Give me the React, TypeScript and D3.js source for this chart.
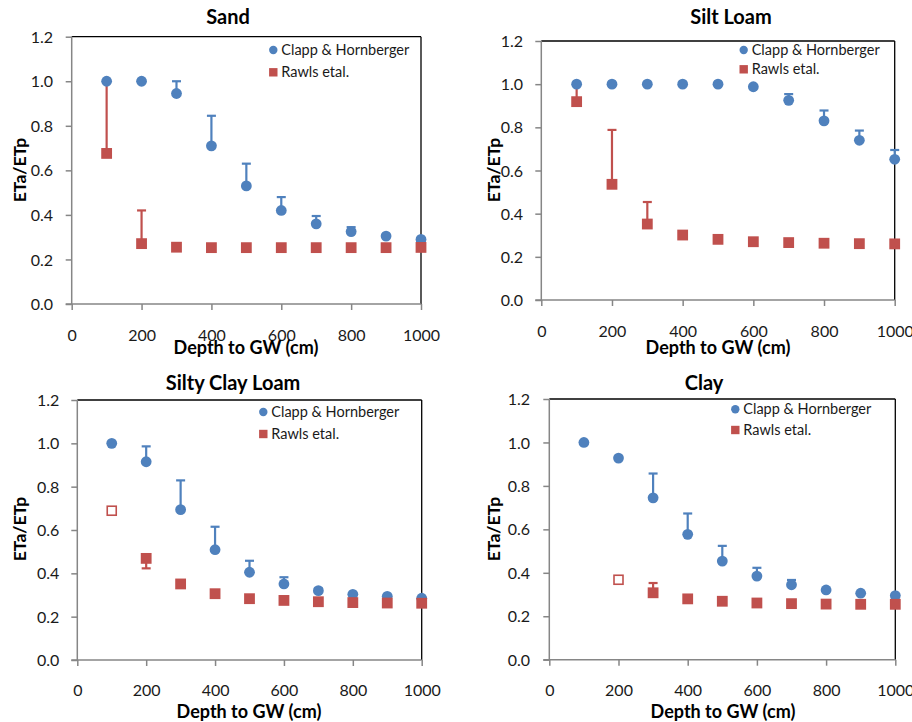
import React, { useEffect, useRef } from "react";
import * as d3 from "d3";

const depths = [100, 200, 300, 400, 500, 600, 700, 800, 900, 1000];
const xTicks = [0, 200, 400, 600, 800, 1000];
const yTicks = [0, 0.2, 0.4, 0.6, 0.8, 1.0, 1.2];
const seriesNames = ["Clapp & Hornberger", "Rawls etal."];

// Sand
const sandClapp = [1.0, 1.0, 0.945, 0.71, 0.53, 0.42, 0.36, 0.325, 0.305, 0.29];
const sandClappHi = [null, null, 1.0, 0.845, 0.63, 0.48, 0.395, 0.345, 0.31, null];
const sandRawls = [0.676, 0.271, 0.255, 0.253, 0.253, 0.253, 0.253, 0.253, 0.253, 0.254];
const sandRawlsHi = [1.0, 0.42, null, null, null, null, null, null, null, null];

// Silt Loam
const siltClapp = [1.0, 1.0, 1.0, 1.0, 1.0, 0.988, 0.925, 0.83, 0.74, 0.652];
const siltClappHi = [null, null, null, null, null, null, 0.954, 0.878, 0.785, 0.695];
const siltRawls = [0.919, 0.536, 0.352, 0.301, 0.281, 0.27, 0.266, 0.263, 0.261, 0.26];
const siltRawlsHi = [1.0, 0.788, 0.454, 0.31, null, null, null, null, null, null];

// Silty Clay Loam
const sclClapp = [1.0, 0.915, 0.694, 0.509, 0.405, 0.351, 0.32, 0.303, 0.294, 0.285];
const sclClappHi = [null, 0.986, 0.829, 0.615, 0.458, 0.382, 0.33, null, null, null];
const sclRawls = [0.689, 0.469, 0.351, 0.306, 0.283, 0.275, 0.269, 0.265, 0.263, 0.262];
const sclRawlsLo = [null, 0.423, null, null, null, null, null, null, null, null];
const sclRawlsOpen = [true, false, false, false, false, false, false, false, false, false];

// Clay
const clayClapp = [1.0, 0.928, 0.745, 0.577, 0.454, 0.385, 0.345, 0.321, 0.306, 0.295];
const clayClappHi = [null, null, 0.857, 0.673, 0.524, 0.423, 0.367, null, null, null];
const clayRawls = [null, 0.368, 0.308, 0.28, 0.269, 0.261, 0.258, 0.256, 0.255, 0.255];
const clayRawlsHi = [null, null, 0.353, 0.29, null, null, null, null, null, null];
const clayRawlsOpen = [false, true, false, false, false, false, false, false, false, false];

const BLUE = "#4F81BD";
const RED = "#C0504D";
const GRAY = "#868686";
const FONT = "Lato, 'Open Sans', sans-serif";

const panels = [
  {
    title: "Sand", titleX: 228, titleY: 24,
    plot: { l: 71.7, r: 421, t: 36.7, b: 304 },
    yLabelX: 53, xLabelY: 341, yTitle: { x: 20, y: 170 }, xTitle: { x: 246, y: 354 },
    legend: { x: 273.3, y1: 50, y2: 72.3 },
    clapp: sandClapp, clappHi: sandClappHi, clappLo: null,
    rawls: sandRawls, rawlsHi: sandRawlsHi, rawlsLo: null, rawlsOpen: null,
  },
  {
    title: "Silt Loam", titleX: 731, titleY: 24,
    plot: { l: 541.3, r: 894.7, t: 41, b: 300 },
    yLabelX: 523, xLabelY: 337, yTitle: { x: 494, y: 170 }, xTitle: { x: 718, y: 354 },
    legend: { x: 743.7, y1: 50, y2: 69.3 },
    clapp: siltClapp, clappHi: siltClappHi, clappLo: null,
    rawls: siltRawls, rawlsHi: siltRawlsHi, rawlsLo: null, rawlsOpen: null,
  },
  {
    title: "Silty Clay Loam", titleX: 233, titleY: 390,
    plot: { l: 77.3, r: 421.7, t: 400, b: 660 },
    yLabelX: 59.3, xLabelY: 696, yTitle: { x: 19.5, y: 529 }, xTitle: { x: 249, y: 718 },
    legend: { x: 263.3, y1: 412, y2: 434 },
    clapp: sclClapp, clappHi: sclClappHi, clappLo: null,
    rawls: sclRawls, rawlsHi: null, rawlsLo: sclRawlsLo, rawlsOpen: sclRawlsOpen,
  },
  {
    title: "Clay", titleX: 704, titleY: 390,
    plot: { l: 549.3, r: 895.3, t: 399, b: 659.7 },
    yLabelX: 530, xLabelY: 696, yTitle: { x: 494, y: 529 }, xTitle: { x: 723, y: 718 },
    legend: { x: 735.3, y1: 409.3, y2: 430 },
    clapp: clayClapp, clappHi: clayClappHi, clappLo: null,
    rawls: clayRawls, rawlsHi: clayRawlsHi, rawlsLo: null, rawlsOpen: clayRawlsOpen,
  },
];

function App() {
  const ref = useRef<SVGSVGElement>(null);

  useEffect(() => {
    const svg = d3.select(ref.current);
    svg.selectAll("*").remove();

    panels.forEach((p) => {
      const g = svg.append("g");
      const x = d3.scaleLinear().domain([0, 1000]).range([p.plot.l, p.plot.r]);
      const y = d3.scaleLinear().domain([0, 1.2]).range([p.plot.b, p.plot.t]);

      // frame: top & right dark
      g.append("line").attr("x1", x(0)).attr("x2", x(1000)).attr("y1", y(1.2)).attr("y2", y(1.2))
        .attr("stroke", "#000").attr("stroke-width", 1.3);
      g.append("line").attr("x1", x(1000)).attr("x2", x(1000)).attr("y1", y(1.2)).attr("y2", y(0))
        .attr("stroke", "#000").attr("stroke-width", 1.3);

      // axes
      const yAxis = g.append("g").attr("transform", `translate(${x(0)},0)`)
        .call(d3.axisLeft(y).tickValues(yTicks).tickSize(6).tickFormat(d3.format(".1f")));
      const xAxis = g.append("g").attr("transform", `translate(0,${y(0)})`)
        .call(d3.axisBottom(x).tickValues(xTicks).tickSize(6).tickFormat(d3.format("d")));
      [yAxis, xAxis].forEach((a) => {
        a.select(".domain").attr("stroke", GRAY).attr("stroke-width", 1.5);
        a.selectAll(".tick line").attr("stroke", GRAY).attr("stroke-width", 1.5);
        a.selectAll(".tick text").attr("font-family", FONT).attr("font-size", 16).attr("fill", "#1a1a1a");
      });
      yAxis.select(".domain").attr("d", `M0,${y(1.2)}V${y(0)}`);
      xAxis.select(".domain").attr("d", `M${x(0) - 6},0H${x(1000)}`);
      yAxis.selectAll(".tick text").attr("x", p.yLabelX - x(0)).attr("dy", "0.35em");
      xAxis.selectAll(".tick text").attr("y", p.xLabelY - y(0)).attr("dy", 0);

      // titles
      g.append("text").attr("x", p.titleX).attr("y", p.titleY).attr("text-anchor", "middle")
        .attr("font-family", FONT).attr("font-weight", "bold").attr("font-size", 20).text(p.title);
      g.append("text").attr("x", p.xTitle.x).attr("y", p.xTitle.y).attr("text-anchor", "middle")
        .attr("font-family", FONT).attr("font-weight", "bold").attr("font-size", 18).text("Depth to GW (cm)");
      g.append("text").attr("transform", `translate(${p.yTitle.x + 6},${p.yTitle.y}) rotate(-90)`)
        .attr("text-anchor", "middle").attr("font-family", FONT).attr("font-weight", "bold")
        .attr("font-size", 17.5).text("ETa/ETp");

      // error bars
      const errBars = (vals, ends, color) => {
        if (!ends) return;
        depths.forEach((d, i) => {
          const v = vals[i], e = ends[i];
          if (v == null || e == null) return;
          g.append("line").attr("x1", x(d)).attr("x2", x(d)).attr("y1", y(v)).attr("y2", y(e))
            .attr("stroke", color).attr("stroke-width", 2.2);
          g.append("line").attr("x1", x(d) - 4.5).attr("x2", x(d) + 4.5).attr("y1", y(e)).attr("y2", y(e))
            .attr("stroke", color).attr("stroke-width", 2.2);
        });
      };
      errBars(p.clapp, p.clappHi, BLUE);
      errBars(p.rawls, p.rawlsHi, RED);
      errBars(p.rawls, p.rawlsLo, RED);

      // markers
      depths.forEach((d, i) => {
        const v = p.clapp[i];
        if (v == null) return;
        g.append("circle").attr("cx", x(d)).attr("cy", y(v)).attr("r", 5.4).attr("fill", BLUE);
      });
      depths.forEach((d, i) => {
        const v = p.rawls[i];
        if (v == null) return;
        const open = p.rawlsOpen && p.rawlsOpen[i];
        if (open) {
          g.append("rect").attr("x", x(d) - 4.5).attr("y", y(v) - 4.5).attr("width", 9).attr("height", 9)
            .attr("fill", "#fff").attr("stroke", RED).attr("stroke-width", 1.6);
        } else {
          g.append("rect").attr("x", x(d) - 5.4).attr("y", y(v) - 5.4).attr("width", 10.8).attr("height", 10.8)
            .attr("fill", RED);
        }
      });

      // legend
      g.append("circle").attr("cx", p.legend.x).attr("cy", p.legend.y1).attr("r", 4.2).attr("fill", BLUE);
      g.append("rect").attr("x", p.legend.x - 4.2).attr("y", p.legend.y2 - 4.2).attr("width", 8.4).attr("height", 8.4)
        .attr("fill", RED);
      [p.legend.y1, p.legend.y2].forEach((ly, k) => {
        g.append("text").attr("x", p.legend.x + 8).attr("y", ly + 5).attr("font-family", FONT)
          .attr("font-size", 14.5).attr("fill", "#1a1a1a").text(seriesNames[k]);
      });
    });
  }, []);

  return (
    <svg ref={ref} width={912} height={722}
      style={{ position: "absolute", left: 0, top: 0, background: "#fff" }} />
  );
}

export default App;
